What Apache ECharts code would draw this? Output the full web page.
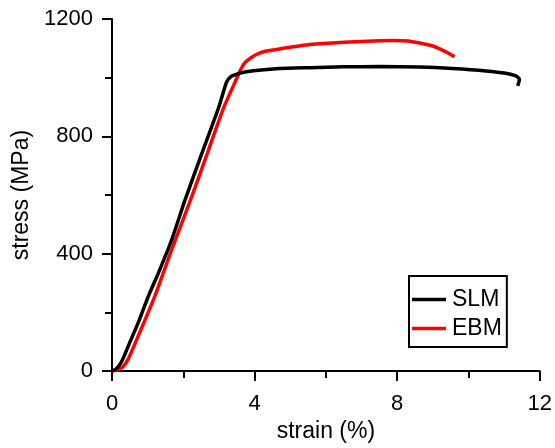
<!DOCTYPE html>
<html>
<head>
<meta charset="utf-8">
<script src="https://cdn.jsdelivr.net/npm/echarts@6/dist/echarts.min.js"></script>
<style>
html,body{margin:0;padding:0;background:#fff;}
#chart{width:555px;height:448px;}
</style>
</head>
<body>
<div id="chart"></div>
<script>
const seriesNames = ['SLM', 'EBM'];
const slmStrain = [0, 0.1, 0.2, 0.3, 0.5, 0.74, 1.02, 1.3, 1.67, 2.04, 2.5, 2.98, 3.21, 3.3, 3.4, 3.77, 4.7, 5.55, 6.5, 7.5, 8.63, 9.56, 10.49, 11.05, 11.33, 11.43, 11.38];
const slmStress = [0, 6, 19, 40, 98, 166, 255, 334, 446, 580, 735, 894, 984, 1000, 1008, 1020, 1031, 1034, 1037, 1038, 1036, 1031, 1023, 1015, 1006, 995, 972];
const ebmStrain = [0, 0.15, 0.3, 0.45, 0.74, 1.2, 1.67, 2.23, 2.7, 3.12, 3.49, 3.6, 3.73, 3.9, 4.05, 4.3, 4.7, 5.55, 6.5, 7.5, 7.9, 8.3, 8.63, 9.0, 9.19, 9.4, 9.61];
const ebmStress = [0, 4, 14, 40, 121, 255, 412, 592, 751, 894, 995, 1025, 1051, 1068, 1079, 1090, 1098, 1113, 1121, 1126, 1127, 1125, 1118, 1108, 1098, 1086, 1071];
const xTicks = [0, 4, 8, 12];
const yTicks = [0, 400, 800, 1200];

const pair = (xs, ys) => xs.map((x, i) => [x, ys[i]]);
const font = 'Arial, "Liberation Sans", sans-serif';

const chart = echarts.init(document.getElementById('chart'), null, {renderer: 'canvas'});
chart.setOption({
  animation: false,
  backgroundColor: '#fff',
  grid: {left: 112, right: 15, top: 19, bottom: 72, containLabel: false},
  legend: {
    data: seriesNames,
    orient: 'vertical',
    left: 409, top: 276,
    padding: [12, 5, 7, 3],
    itemGap: 6,
    itemWidth: 34, itemHeight: 3.5,
    icon: 'rect',
    borderColor: '#000', borderWidth: 2,
    textStyle: {fontFamily: font, fontSize: 23, color: '#000', padding: [0, 0, 0, 1]}
  },
  xAxis: {
    type: 'value', min: xTicks[0], max: xTicks[xTicks.length - 1], interval: 4,
    name: 'strain (%)', nameLocation: 'middle', nameGap: 46,
    nameTextStyle: {fontFamily: font, fontSize: 23, color: '#000'},
    axisLine: {show: true, onZero: false, lineStyle: {color: '#000', width: 2}},
    axisTick: {show: true, inside: false, length: 10, lineStyle: {color: '#000', width: 2}},
    minorTick: {show: true, splitNumber: 2, length: 7, lineStyle: {color: '#000', width: 2}},
    axisLabel: {fontFamily: font, fontSize: 22, color: '#000', margin: 22, formatter: v => String(v)},
    splitLine: {show: false}
  },
  yAxis: {
    type: 'value', min: yTicks[0], max: yTicks[yTicks.length - 1], interval: 400,
    name: 'stress (MPa)', nameLocation: 'middle', nameGap: 75, nameRotate: 90,
    nameTextStyle: {fontFamily: font, fontSize: 23, color: '#000'},
    axisLine: {show: true, onZero: false, lineStyle: {color: '#000', width: 2}},
    axisTick: {show: true, inside: false, length: 10, lineStyle: {color: '#000', width: 2}},
    minorTick: {show: true, splitNumber: 2, length: 7, lineStyle: {color: '#000', width: 2}},
    axisLabel: {fontFamily: font, fontSize: 22, color: '#000', margin: 19, formatter: v => String(v)},
    splitLine: {show: false}
  },
  series: [
    {name: seriesNames[0], type: 'line', data: pair(slmStrain, slmStress), showSymbol: false, smooth: 0.2,
     lineStyle: {color: '#000', width: 3.5}, itemStyle: {color: '#000'}, z: 3},
    {name: seriesNames[1], type: 'line', data: pair(ebmStrain, ebmStress), showSymbol: false, smooth: 0.2,
     lineStyle: {color: '#ff0000', width: 3.5}, itemStyle: {color: '#ff0000'}, z: 2}
  ]
});
</script>
</body>
</html>
